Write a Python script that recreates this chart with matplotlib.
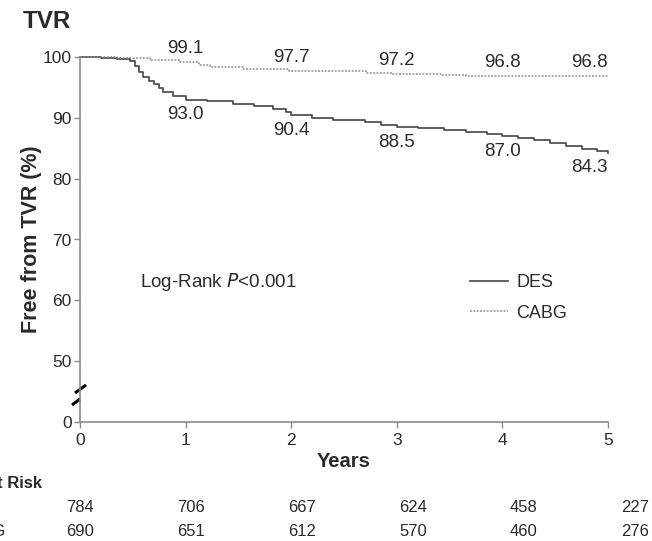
import numpy as np
import matplotlib
matplotlib.use("Agg")
import matplotlib.pyplot as plt

plt.rcParams['font.family'] = ['Liberation Sans', 'DejaVu Sans']

# Kaplan-Meier step data (years, % free from TVR)
des_t = [0, 0.2, 0.35, 0.47, 0.52, 0.56, 0.6, 0.65, 0.7, 0.75, 0.79, 0.88, 1.0, 1.2, 1.45, 1.65, 1.83, 1.95, 2.0, 2.2, 2.4, 2.7, 2.85, 3.0, 3.2, 3.45, 3.66, 3.85, 4.0, 4.15, 4.3, 4.45, 4.6, 4.75, 4.9, 5.0]
des_s = [100, 99.8, 99.6, 99.4, 98.6, 97.6, 96.7, 96.1, 95.6, 94.9, 94.3, 93.6, 93.0, 92.7, 92.3, 91.9, 91.5, 90.9, 90.4, 90.0, 89.7, 89.3, 88.9, 88.5, 88.3, 88.0, 87.6, 87.3, 87.0, 86.7, 86.3, 85.9, 85.3, 84.9, 84.5, 84.3]
cabg_t = [0, 0.35, 0.66, 0.95, 1.13, 1.23, 1.54, 1.98, 2.71, 2.95, 3.43, 3.66, 5.0]
cabg_s = [100, 99.8, 99.5, 99.1, 98.7, 98.3, 98.0, 97.7, 97.4, 97.2, 97.0, 96.8, 96.8]

years = [1, 2, 3, 4, 5]
des_labels = [93.0, 90.4, 88.5, 87.0, 84.3]
cabg_labels = [99.1, 97.7, 97.2, 96.8, 96.8]

risk_des = [784, 706, 667, 624, 458, 227]
risk_cabg = [690, 651, 612, 570, 460, 276]

W, H = 652, 541
fig = plt.figure(figsize=(W / 100, H / 100), dpi=100)
ax = fig.add_axes([80 / W, 1 - 422 / H, (608 - 80) / W, (422 - 57) / H])


# broken y axis: 0-50 compressed
def fwd(y):
    y = np.asarray(y, float)
    return np.where(y >= 50, y, 50 - (50 - y) * 0.2)


def inv(v):
    v = np.asarray(v, float)
    return np.where(v >= 50, v, 50 - (50 - v) / 0.2)


ax.set_yscale('function', functions=(fwd, inv))
ax.set_ylim(0, 100)
ax.set_xlim(0, 5)

text_c = '#2a2a2a'
axis_c = '#8a8a8a'

ax.step(des_t, des_s, where='post', color='#444444', lw=1.2, clip_on=False,
        label='DES')
ax.step(cabg_t, cabg_s, where='post', color='#8a8a8a', lw=1.1, ls=(0, (1.2, 1.0)),
        clip_on=False, label='CABG')

for spine in ['top', 'right']:
    ax.spines[spine].set_visible(False)
for spine in ['left', 'bottom']:
    ax.spines[spine].set_color(axis_c)
    ax.spines[spine].set_linewidth(1.2)

ax.set_yticks([0, 50, 60, 70, 80, 90, 100])
ax.set_xticks([0, 1, 2, 3, 4, 5])
ax.tick_params(axis='both', direction='out', length=4, width=1, color=axis_c,
               labelsize=12.5, labelcolor=text_c, pad=2)
ax.tick_params(axis='x', pad=4)

# axis break marks
ax.plot([-0.0152, 0.0], [0.0466, 0.063], transform=ax.transAxes, color='black',
        lw=2.2, clip_on=False, solid_capstyle='butt')
ax.plot([-0.0095, 0.0114], [0.0795, 0.1014], transform=ax.transAxes, color='black',
        lw=2.2, clip_on=False, solid_capstyle='butt')

ax.set_xlabel('Years', fontsize=14.5, fontweight='bold', color=text_c, labelpad=3)
ax.set_ylabel('Free from TVR (%)', fontsize=15.5, fontweight='bold', color=text_c)
ax.yaxis.set_label_coords(-0.072, 0.5)

# survival values at each year
for i, (x, v) in enumerate(zip(years, cabg_labels)):
    ha = 'right' if i == len(years) - 1 else 'center'
    ax.annotate(f'{v:.1f}', (x, v), xytext=(0, 10), textcoords='offset points',
                ha=ha, va='center', fontsize=13.5, color=text_c, annotation_clip=False)
for i, (x, v) in enumerate(zip(years, des_labels)):
    ha = 'right' if i == len(years) - 1 else 'center'
    ax.annotate(f'{v:.1f}', (x, v), xytext=(0, -11), textcoords='offset points',
                ha=ha, va='center', fontsize=13.5, color=text_c, annotation_clip=False)

ax.text(0.57, 63.0, 'Log-Rank $\\it{P}$<0.001', fontsize=13.5, color=text_c,
        va='center', ha='left')

leg = ax.legend(loc='center left', bbox_to_anchor=(0.739, 0.34), frameon=False,
                fontsize=13, handlelength=2.1, handletextpad=0.45, labelspacing=0.75,
                borderpad=0, borderaxespad=0, labelcolor=text_c)

fig.text(23 / W, 1 - 22 / H, 'TVR', fontsize=17.5, fontweight='bold', color=text_c,
         va='center', ha='left')

# numbers at risk
def fx(px):
    return px / W


def fy(py):
    return 1 - py / H


fig.text(fx(42), fy(483), 'At Risk', fontsize=12, fontweight='bold', color=text_c,
         ha='right', va='center')
fig.text(fx(-8), fy(508), 'DES', fontsize=12, color=text_c, ha='right', va='center')
fig.text(fx(5), fy(531), 'CABG', fontsize=12, color=text_c, ha='right', va='center')
for i, (a, b) in enumerate(zip(risk_des, risk_cabg)):
    xp = 80 + 111 * i
    fig.text(fx(xp), fy(508), str(a), fontsize=12, color=text_c, ha='center', va='center')
    fig.text(fx(xp), fy(531), str(b), fontsize=12, color=text_c, ha='center', va='center')

fig.savefig('out.png', dpi=100)
